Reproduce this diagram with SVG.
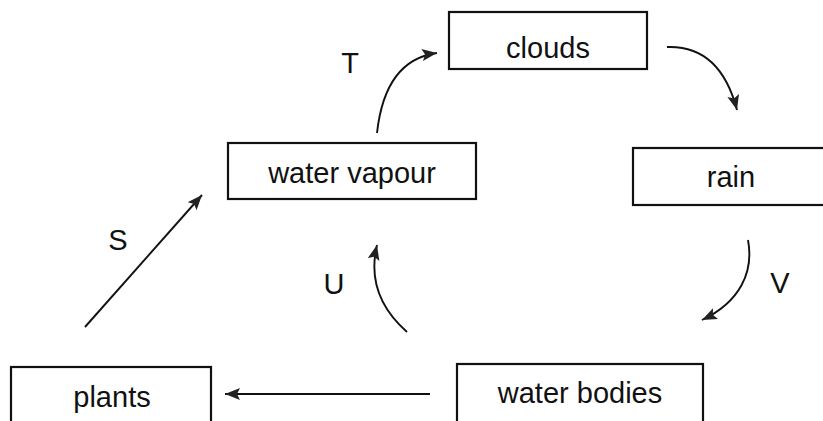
<svg xmlns="http://www.w3.org/2000/svg" width="823" height="421" viewBox="0 0 823 421">
  <style>
    .box { fill: #ffffff; stroke: #111111; stroke-width: 2.2; }
    .node-text { font-family: "Liberation Sans", Arial, sans-serif; font-size: 29px; fill: #111111; text-anchor: middle; }
    .label { font-family: "Liberation Sans", Arial, sans-serif; font-size: 29px; fill: #111111; text-anchor: middle; }
    .conn { fill: none; stroke: #111111; stroke-width: 1.9; marker-end: url(#arrow); }
  </style>
  <defs>
    <marker id="arrow" markerUnits="userSpaceOnUse" markerWidth="18" markerHeight="14" refX="15" refY="6" orient="auto">
      <path d="M0,0 L15,6 L0,12 L3,6 z" fill="#222222"/>
    </marker>
  </defs>
  <rect width="823" height="421" fill="#ffffff"/>

  <g id="clouds">
    <rect class="box" x="449" y="12" width="198" height="57"/>
    <text class="node-text" x="548" y="58">clouds</text>
  </g>
  <g id="water-vapour">
    <rect class="box" x="228" y="143" width="248" height="56"/>
    <text class="node-text" x="352" y="183">water vapour</text>
  </g>
  <g id="rain">
    <rect class="box" x="633" y="148" width="210" height="57"/>
    <text class="node-text" x="731" y="187">rain</text>
  </g>
  <g id="plants">
    <rect class="box" x="11" y="367" width="200" height="80"/>
    <text class="node-text" x="112" y="407">plants</text>
  </g>
  <g id="water-bodies">
    <rect class="box" x="457" y="364" width="246" height="80"/>
    <text class="node-text" x="580" y="403">water bodies</text>
  </g>

  <g id="connectors">
    <path class="conn" d="M377,133 Q385,60 437,53"/>
    <path class="conn" d="M667,47 Q720,45 737,110"/>
    <path class="conn" d="M748,240 C754,272 740,302 702,320"/>
    <path class="conn" d="M407,332 Q365,295 377,245"/>
    <path class="conn" d="M85,327 L202,195"/>
    <path class="conn" d="M430,394 L225,394"/>
  </g>

  <g id="labels">
    <text class="label" x="350" y="73">T</text>
    <text class="label" x="118" y="250">S</text>
    <text class="label" x="334" y="294">U</text>
    <text class="label" x="780" y="293">V</text>
  </g>
</svg>
